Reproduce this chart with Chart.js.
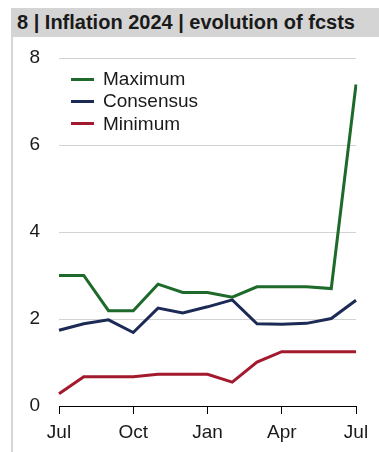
<!DOCTYPE html>
<html>
<head>
<meta charset="utf-8">
<script src="https://cdn.jsdelivr.net/npm/chart.js@4/dist/chart.umd.min.js"></script>
<style>
  html, body { margin: 0; padding: 0; background: #fff; width: 379px; height: 452px; overflow: hidden; }
  body { position: relative; font-family: "Liberation Sans", Arial, sans-serif; }
  #frame { position: absolute; left: 11px; top: 8px; width: 2px; height: 444px; background: #d6d6d6; }
  #title { position: absolute; left: 11px; top: 8px; width: 368px; height: 29px; background: #d4d4d4;
           font-weight: bold; font-size: 20px; line-height: 29px; color: #1a1a1a; padding-left: 6px; box-sizing: border-box; white-space: nowrap; }
  #cv { position: absolute; left: 13px; top: 37px; }
  #legend { position: absolute; left: 71px; top: 68px; font-size: 19px; color: #1a1a1a; }
  .li { height: 22.3px; line-height: 22.3px; display: flex; align-items: center; white-space: nowrap; }
  .sw { width: 23px; height: 3px; margin-right: 9px; }
</style>
</head>
<body>
<div id="frame"></div>
<div id="title">8 | Inflation 2024 | evolution of fcsts</div>
<canvas id="cv" width="366" height="415"></canvas>
<div id="legend"></div>
<script>
const months = ['Jul','Aug','Sep','Oct','Nov','Dec','Jan','Feb','Mar','Apr','May','Jun','Jul'];
const maximum   = [3.0, 3.0, 2.19, 2.19, 2.80, 2.61, 2.61, 2.50, 2.74, 2.74, 2.74, 2.70, 7.39];
const consensus = [1.74, 1.89, 1.98, 1.69, 2.25, 2.14, 2.28, 2.44, 1.89, 1.88, 1.90, 2.01, 2.43];
const minimum   = [0.28, 0.67, 0.67, 0.67, 0.73, 0.73, 0.73, 0.55, 1.01, 1.25, 1.25, 1.25, 1.25];
const yTicks = [0, 2, 4, 6, 8];
const seriesNames = ['Maximum', 'Consensus', 'Minimum'];
const seriesColors = ['#1d6a2a', '#1c2a56', '#a3192e'];

const FONT = { family: '"Liberation Sans", Arial, sans-serif', size: 19 };

const datasets = [maximum, consensus, minimum].map((d, i) => ({
  label: seriesNames[i],
  data: d,
  borderColor: seriesColors[i],
  backgroundColor: seriesColors[i],
  borderWidth: 3,
  pointRadius: 0,
  tension: 0,
  fill: false
}));

new Chart(document.getElementById('cv'), {
  type: 'line',
  data: { labels: months, datasets },
  options: {
    responsive: false,
    animation: false,
    devicePixelRatio: 1,
    layout: { padding: { top: 21, right: 23, left: 0, bottom: 0 } },
    plugins: { legend: { display: false }, tooltip: { enabled: false } },
    scales: {
      x: {
        type: 'category',
        offset: false,
        grid: { drawOnChartArea: false, drawTicks: true, tickLength: 8, color: '#000', lineWidth: 1 },
        border: { display: true, color: '#000', width: 1 },
        ticks: {
          autoSkip: false, maxRotation: 0, minRotation: 0,
          font: FONT, color: '#1a1a1a', padding: 7,
          callback: (v, i) => (i % 3 === 0 ? months[i] : null)
        },
        afterFit: s => { s.height = 46; s.paddingLeft = 0; s.paddingRight = 0; }
      },
      y: {
        min: 0, max: 8,
        afterBuildTicks: s => { s.ticks = yTicks.map(v => ({ value: v })); },
        grid: { drawTicks: false, color: (c) => c.tick && c.tick.value === 0 ? 'rgba(0,0,0,0)' : '#d3d3d3', lineWidth: 1 },
        border: { display: false },
        ticks: { font: FONT, color: '#1a1a1a', padding: 19 },
        afterFit: s => { s.width = 46; s.paddingTop = 0; s.paddingBottom = 0; }
      }
    }
  }
});

const lg = document.getElementById('legend');
seriesNames.forEach((n, i) => {
  const row = document.createElement('div');
  row.className = 'li';
  const sw = document.createElement('span');
  sw.className = 'sw';
  sw.style.background = seriesColors[i];
  const tx = document.createElement('span');
  tx.textContent = n;
  row.appendChild(sw); row.appendChild(tx);
  lg.appendChild(row);
});
</script>
</body>
</html>
